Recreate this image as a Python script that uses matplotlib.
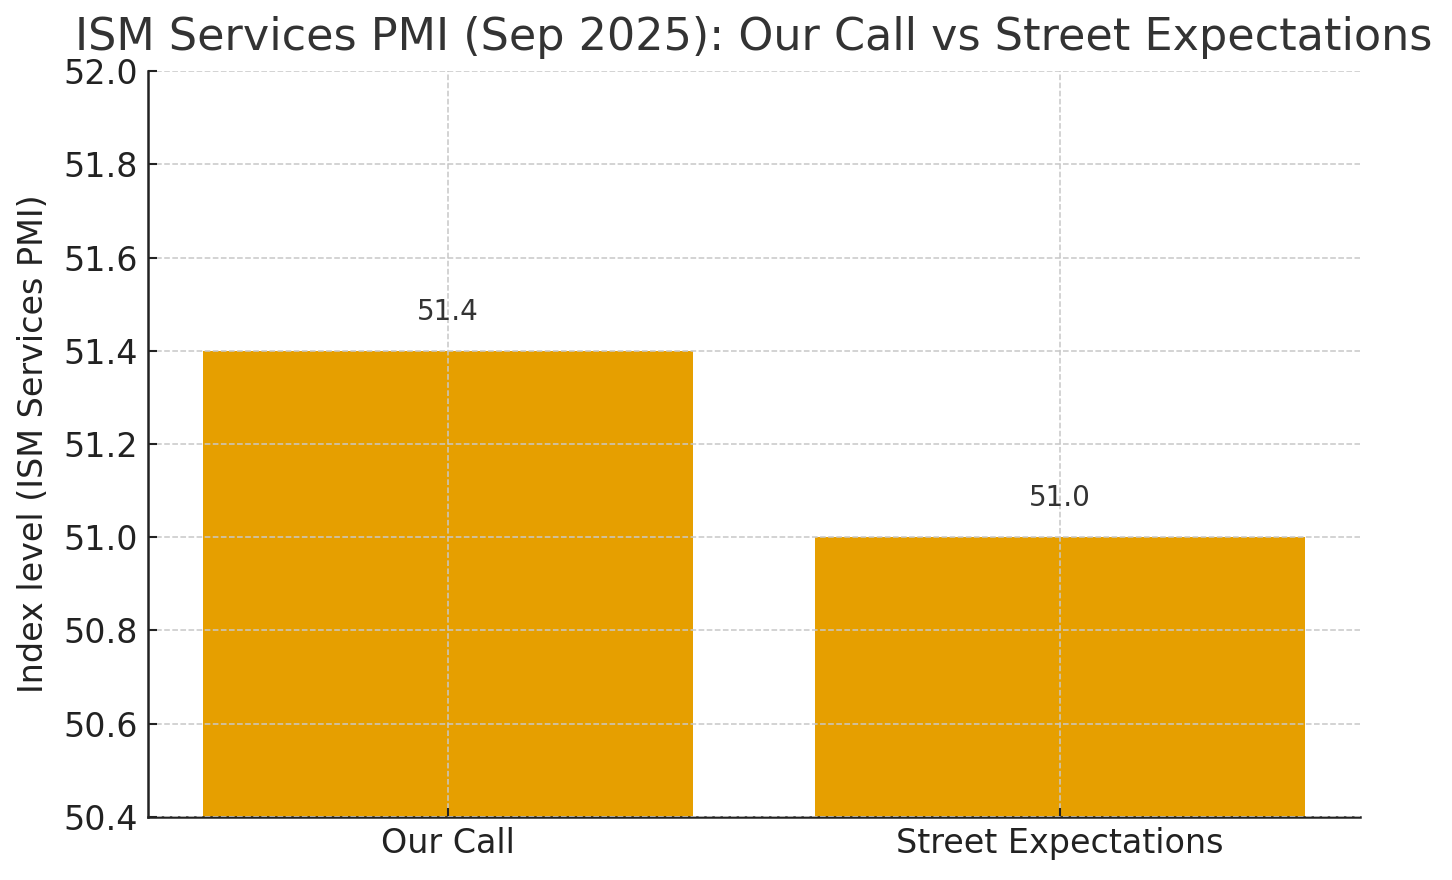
import matplotlib
matplotlib.use("Agg")
import matplotlib.pyplot as plt

categories = ["Our Call", "Street Expectations"]
values = [51.4, 51.0]
value_labels = ["51.4", "51.0"]
y_ticks = [50.4, 50.6, 50.8, 51.0, 51.2, 51.4, 51.6, 51.8, 52.0]

fig = plt.figure(figsize=(14.52, 8.8), dpi=100)
ax = fig.add_axes([0.1019, 0.0716, 0.8347, 0.8477])

bars = ax.bar(categories, values, width=0.8, color="#E69F00")
ax.set_ylim(50.4, 52.0)
ax.set_yticks(y_ticks)
ax.set_yticklabels([f"{t:.1f}" for t in y_ticks])

for b, lab in zip(bars, value_labels):
    ax.annotate(lab, (b.get_x() + b.get_width() / 2, b.get_height()),
                xytext=(0, 18), textcoords="offset points",
                ha="center", va="bottom", fontsize=20, color="#333333")

ax.set_title("ISM Services PMI (Sep 2025): Our Call vs Street Expectations",
             fontsize=32, color="#333333", pad=15)
ax.set_ylabel("Index level (ISM Services PMI)", fontsize=24, color="#222222", labelpad=10)

ax.grid(True, linestyle="--", color="#c8c8c8", linewidth=1.1)
ax.set_axisbelow(False)
for s in ["top", "right"]:
    ax.spines[s].set_visible(False)
for s in ["left", "bottom"]:
    ax.spines[s].set_linewidth(1.8)
    ax.spines[s].set_color("#222222")
ax.tick_params(direction="in", length=6.5, width=1.5, pad=7, labelsize=24,
               colors="#222222")

fig.savefig("out.png", dpi=100)
